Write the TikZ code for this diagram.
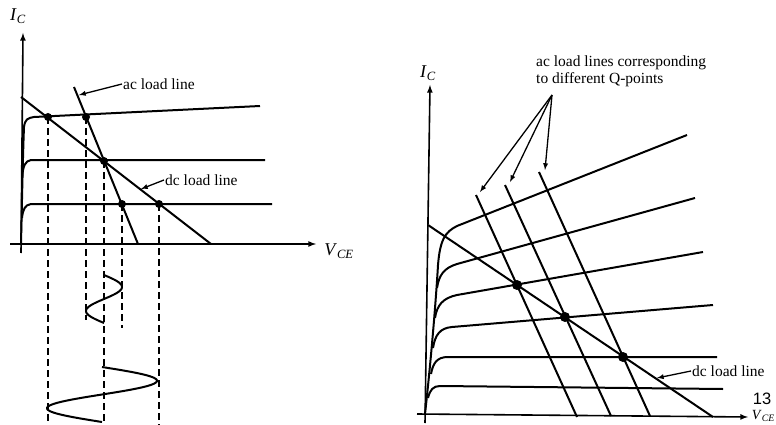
\documentclass[tikz,border=0pt]{standalone}
\usepackage{fontspec}
\setmainfont{Liberation Serif}
\newfontfamily\numfont{Liberation Sans}

\begin{document}
\begin{tikzpicture}[x=1pt, y=-1pt,
    curve/.style={line width=2pt, line join=round},
    axis/.style={line width=1.6pt, ->, >=latex},
    proj/.style={line width=1.4pt, dash pattern=on 7pt off 4pt},
    ptr/.style={->, >=latex, line width=1.3pt},
    lbl/.style={font=\fontsize{15.5}{17}\selectfont, inner sep=1pt},
    axlbl/.style={font=\fontsize{18}{20}\selectfont, inner sep=0pt}]
\useasboundingbox (0,0) rectangle (776,425);

% Левый график: оси
\draw[axis] (21,253) -- (23,33);
\draw[axis] (10,244) -- (316,244);
\node[axlbl] (icl) at (18,16) {\textit{I}\textsubscript{\textit{C}}};
\node[axlbl] (vcel) at (339,251) {\textit{V}\textsubscript{\textit{CE}}};

% выходные характеристики
\draw[curve] (21,244) .. controls (22,200) and (23,150) .. (24,127)
    .. controls (25,119) and (28,118) .. (34,117) -- (260,106);
\draw[curve] (22,178) .. controls (23,166) and (25,161) .. (31,160) -- (265,160);
\draw[curve] (22,218) .. controls (23,209) and (25,205) .. (31,204) -- (272,204);

% нагрузочные прямые
\coordinate (dca) at (21,97);
\coordinate (dcb) at (211,244);
\coordinate (aca) at (74,87);
\coordinate (acb) at (138,244);
\draw[curve] (dca) -- (dcb);
\draw[curve] (aca) -- (acb);

% рабочие точки и проекции
\foreach \x/\y/\e [count=\i] in {48/117/425, 86/117/320, 104/161/425, 122/204/328, 159/204/425} {
    \coordinate (q\i) at (\x,\y);
    \draw[proj] (q\i) -- (\x,\e);
}
\foreach \i in {1,...,5}
    \fill (q\i) circle (4);

% ток и напряжение
\draw[curve] plot[domain=0:360, samples=73, smooth, variable=\t]
    ({104+18*sin(\t)}, {275+\t/7.5});
\draw[curve] plot[domain=0:360, samples=73, smooth, variable=\t]
    ({102+55*sin(\t)}, {367+0.15278*\t});

% подписи
\node[lbl, anchor=west] (acl) at (122,84) {ac load line};
\coordinate (acp) at (79,95);
\draw[ptr] (acl.west) -- (acp);
\node[lbl, anchor=west] (dcl) at (164,180) {dc load line};
\coordinate (dcp) at (141,189);
\draw[ptr] (dcl.west) -- (dcp);

% Правый график: оси
\draw[axis] (425,423) -- (430,85);
\draw[axis] (417,414) -- (748,417);
\node[axlbl] (icr) at (428,73) {\textit{I}\textsubscript{\textit{C}}};
\node[font=\fontsize{14}{15}\selectfont, inner sep=0pt, anchor=base east] (vcer) at (775,419)
    {\textit{V}\textsubscript{\textit{CE}}};
\node[font=\numfont\fontsize{16.5}{17}\selectfont, inner sep=0pt] (pg) at (762,399) {13};

% выходные характеристики
\draw[curve] (425,414) .. controls (431,360) and (436,300) .. (438,265)
    .. controls (440,240) and (445,232) .. (457,226) -- (687,135);
\draw[curve] (437,288) .. controls (439,275) and (444,268) .. (457,264) -- (695,198);
\draw[curve] (435,318) .. controls (437,305) and (443,298) .. (457,295) -- (703,252);
\draw[curve] (433,348) .. controls (435,335) and (440,328) .. (452,327) -- (713,305);
\draw[curve] (431,374) .. controls (433,363) and (437,357) .. (448,357) -- (717,357);
\draw[curve] (428,398) .. controls (430,390) and (433,386) .. (440,386) -- (723,389);

% нагрузочные прямые
\coordinate (dcr1) at (428,225);
\coordinate (dcr2) at (713,417);
\draw[curve] (dcr1) -- (dcr2);
\foreach \xa/\ya/\xb/\yb [count=\i] in {476/195/577/417, 505/185/611/416, 539/172/650/416} {
    \coordinate (ac\i) at (\xa,\ya);
    \draw[curve] (ac\i) -- (\xb,\yb);
}
\foreach \x/\y in {517/285, 565/317, 623/357}
    \fill (\x,\y) circle (5);

% подписи
\node[lbl, anchor=north west, align=left] (acr) at (535,55)
    {ac load lines corresponding\\to different Q-points};
\coordinate (fan) at (552,95);
\foreach \x/\y in {480/192, 510/182, 545/170}
    \draw[ptr] (fan) -- (\x,\y);
\node[lbl, anchor=west] (dcr) at (691,371) {dc load line};
\coordinate (dcrp) at (657,378);
\draw[ptr] (dcr.west) -- (dcrp);
\end{tikzpicture}
\end{document}
